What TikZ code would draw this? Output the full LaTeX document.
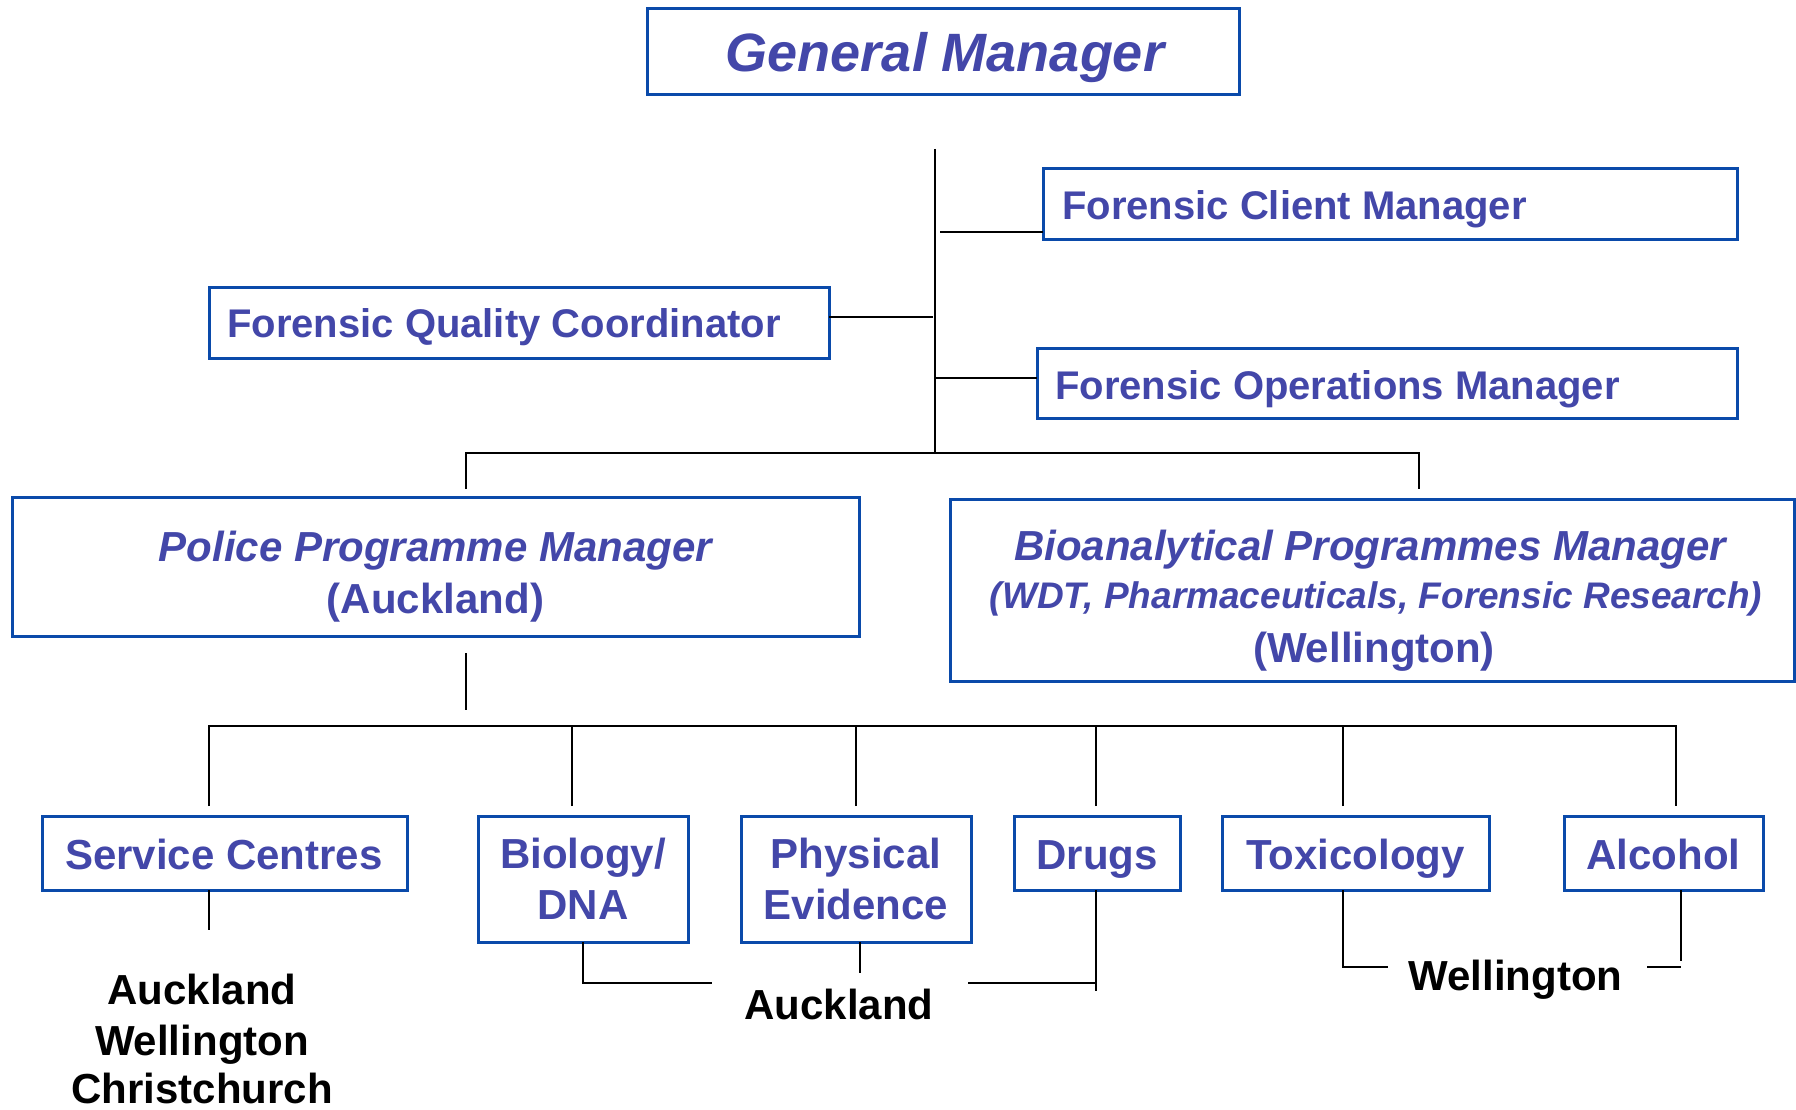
\documentclass[tikz,border=0pt]{standalone}
\usepackage{fontspec}
\setmainfont{Liberation Sans}
\definecolor{titleblue}{RGB}{67,71,169}
\definecolor{frameblue}{RGB}{10,74,170}
\begin{document}
\begin{tikzpicture}[x=1pt,y=-1pt,
  orgbox/.style={draw=frameblue, line width=3pt, inner sep=0pt, outer sep=0pt},
  lbl/.style={inner sep=0pt, anchor=base, text=titleblue,
              font=\bfseries\fontsize{#1}{#1}\selectfont},
  ilbl/.style={inner sep=0pt, anchor=base, text=titleblue,
               font=\bfseries\itshape\fontsize{#1}{#1}\selectfont},
  loc/.style={inner sep=0pt, anchor=base, text=black,
              font=\bfseries\fontsize{42}{42}\selectfont},
  link/.style={draw=black, line width=2.6pt}]

% canvas
\fill[white] (0,0) rectangle (1796,1110);
\useasboundingbox (0,0) rectangle (1796,1110);

% ---- boxes ----
\node[orgbox, minimum width=592pt, minimum height=86pt]  (gm)  at (943,52) {};
\node[orgbox, minimum width=694pt, minimum height=70pt]  (fcm) at (1390,204) {};
\node[orgbox, minimum width=620pt, minimum height=71pt]  (fqc) at (519,322.5) {};
\node[orgbox, minimum width=700pt, minimum height=70pt]  (fom) at (1387,383) {};
\node[orgbox, minimum width=847pt, minimum height=139pt] (ppm) at (435.5,566.5) {};
\node[orgbox, minimum width=844pt, minimum height=182pt] (bpm) at (1372,590) {};
\node[orgbox, minimum width=365pt, minimum height=74pt]  (sc)  at (224.5,853) {};
\node[orgbox, minimum width=210pt, minimum height=126pt] (bio) at (583,879) {};
\node[orgbox, minimum width=230pt, minimum height=126pt] (phy) at (856,879) {};
\node[orgbox, minimum width=166pt, minimum height=74pt]  (drg) at (1097,853) {};
\node[orgbox, minimum width=267pt, minimum height=74pt]  (tox) at (1355.5,853) {};
\node[orgbox, minimum width=199pt, minimum height=74pt]  (alc) at (1663.5,853) {};

% ---- box texts ----
\node[ilbl=54] (gmtext) at (945,72) {General Manager};
\node[lbl=40, anchor=base west] (fcmtext) at (1062,219) {Forensic Client Manager};
\node[lbl=40, anchor=base west] (fqctext) at (227,337) {Forensic Quality Coordinator};
\node[lbl=40, anchor=base west] (fomtext) at (1055,399) {Forensic Operations Manager};
\node[ilbl=42] (ppmtext) at (435.5,561) {Police Programme Manager};
\node[lbl=42]  (ppmloc)  at (435.5,613) {(Auckland)};
\node[ilbl=42] (bpmtext) at (1370,560) {Bioanalytical Programmes Manager};
\node[ilbl=37] (bpmscope) at (1376,608) {(WDT, Pharmaceuticals, Forensic Research)};
\node[lbl=42]  (bpmloc)  at (1374,662) {(Wellington)};
\node[lbl=42] (sctext)   at (224,869) {Service Centres};
\node[lbl=42] (biotext)  at (583,868) {Biology/};
\node[lbl=42] (biotext2) at (583,919) {DNA};
\node[lbl=42] (phytext)  at (856,868) {Physical};
\node[lbl=42] (phytext2) at (856,919) {Evidence};
\node[lbl=42] (drgtext)  at (1097,869) {Drugs};
\node[lbl=42] (toxtext)  at (1355.5,869) {Toxicology};
\node[lbl=42] (alctext)  at (1663.5,869) {Alcohol};

% ---- site labels ----
\node[loc] (scsite1) at (202,1004) {Auckland};
\node[loc] (scsite2) at (202,1055) {Wellington};
\node[loc] (scsite3) at (202,1103) {Christchurch};
\node[loc] (akl) at (839,1019) {Auckland};
\node[loc] (wgn) at (1515.5,990) {Wellington};

% ---- upper tree ----
\coordinate (trunktop) at (935,149);
\coordinate (hub) at (935,453);
\coordinate (fcmjoin) at (940,232);
\coordinate (fqcjoin) at (933,317);
\coordinate (fomjoin) at (935,378);
\coordinate (ppmdrop) at (466,489);
\coordinate (bpmdrop) at (1419,489);

\draw[link] (trunktop) -- (hub);
\draw[link] (fcmjoin) -- (fcmjoin -| fcm.west);
\draw[link] (fqcjoin) -- (fqcjoin -| fqc.east);
\draw[link] (fomjoin) -- (fomjoin -| fom.west);
\draw[link] (ppmdrop) |- (hub) -| (bpmdrop);

% ---- police programme branch ----
\coordinate (subtop) at (466,653);
\coordinate (substub) at (466,710);
\coordinate (barL) at (209,726);
\coordinate (barR) at (1676,726);
\coordinate (scdrop)  at (209,806);
\coordinate (biodrop) at (572,806);
\coordinate (phydrop) at (856,806);
\coordinate (drgdrop) at (1096,806);
\coordinate (toxdrop) at (1343,806);
\coordinate (alcdrop) at (1676,806);

\draw[link] (subtop) -- (substub);
\draw[link] (scdrop) |- (barR) -- (alcdrop);
\foreach \d in {biodrop,phydrop,drgdrop,toxdrop}
  \draw[link] (\d) -- (\d |- barL);

% ---- site connectors ----
\coordinate (scfoot) at (209,930);
\draw[link] (scfoot |- sc.south) -- (scfoot);

\coordinate (biojoin) at (712,983);
\draw[link] (bio.south) |- (biojoin);

\coordinate (phyfoot) at (860,973);
\draw[link] (phyfoot |- phy.south) -- (phyfoot);

\coordinate (drgfoot) at (1096,991);
\coordinate (drgjoin) at (968,983);
\draw[link] (drgfoot |- drg.south) -- (drgfoot);
\draw[link] (drgjoin) -- (drgjoin -| drgfoot);

\coordinate (toxfoot) at (1343,967);
\coordinate (toxjoin) at (1388,967);
\draw[link] (toxfoot |- tox.south) -- (toxfoot) -- (toxjoin);

\coordinate (alcfoot) at (1681,961);
\coordinate (alcjoin) at (1647,967);
\draw[link] (alcfoot |- alc.south) -- (alcfoot);
\draw[link] (alcjoin) -- (alcjoin -| alcfoot);

\end{tikzpicture}
\end{document}
